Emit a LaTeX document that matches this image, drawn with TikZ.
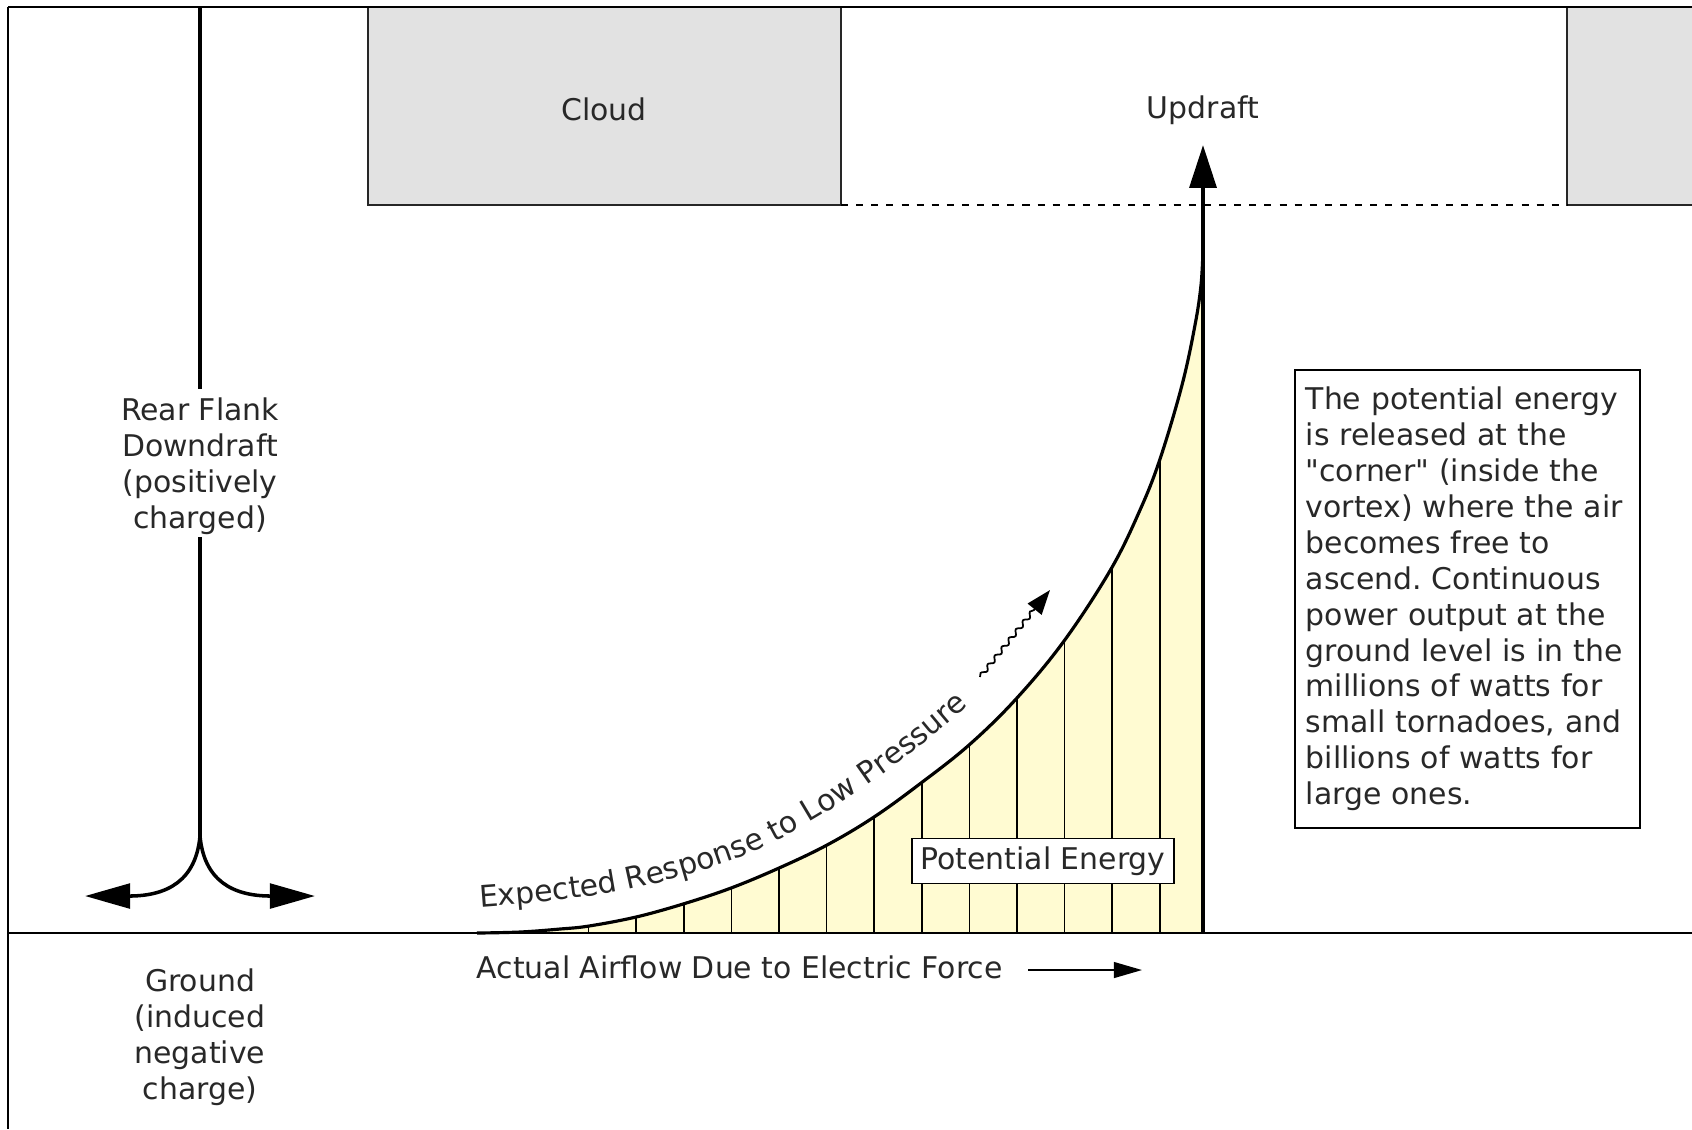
\documentclass[tikz,border=0pt]{standalone}
\usepackage{fontspec}
\setmainfont{DejaVu Sans}
\usetikzlibrary{arrows.meta,decorations.text,decorations.pathmorphing}
\definecolor{cloudgray}{RGB}{226,226,226}
\definecolor{peyellow}{RGB}{255,251,210}
\definecolor{txt}{RGB}{40,40,40}
\frenchspacing
\begin{document}
\begin{tikzpicture}[x=0.01cm,y=-0.01cm,
  lbl/.style={font=\fontsize{8.5}{10.2}\selectfont\frenchspacing, text=txt, align=center, inner sep=0pt},
  frameline/.style={line width=0.6pt, draw=black},
  cloudbox/.style={fill=cloudgray, draw=black!85, line width=0.6pt},
  rearline/.style={line width=1pt, draw=black},
  bigtip/.style={-{Triangle[length=12.8pt,width=7pt]}},
  hatchline/.style={line width=0.45pt, draw=black},
  curveline/.style={line width=0.9pt, draw=black},
  thinarrow/.style={line width=0.5pt, -{Triangle[length=8pt,width=4.5pt]}},
  boxed/.style={draw=black, line width=0.5pt, fill=white}
]
\useasboundingbox (0,0) rectangle (1692,1129);
\fill[white] (0,0) rectangle (1692,1129);

% clouds
\draw[cloudbox] (368,7) rectangle (841,205);
\begin{scope}
  \clip (0,0) rectangle (1692,1129);
  \draw[cloudbox] (1567,7) rectangle (1720,205);
\end{scope}
\node[lbl] (cloud) at (604,109) {Cloud};
\node[lbl] (updraft) at (1203,110) {Updraft};
\coordinate (cloudR) at (841,205);
\coordinate (cloud2L) at (1567,205);
\draw[line width=0.45pt, dash pattern=on 2pt off 2.3pt] (cloudR) -- (cloud2L);

% frame
\draw[frameline] (8,7) -- (1692,7);
\draw[frameline] (8,7) -- (8,1129);

% potential energy fill
\fill[peyellow] plot[smooth, tension=0.6] coordinates {(477,933) (520,932) (560,929) (589,926) (636,917) (683,904) (731,888) (779,868) (827,845) (874,817) (921,783) (969,745) (1016,699) (1064,641) (1111,569) (1140,510) (1160,459) (1182,385) (1195,325) (1201,285) (1203,250)} -- (1203,933) -- cycle;
\begin{scope}
  \clip plot[smooth, tension=0.6] coordinates {(477,933) (520,932) (560,929) (589,926) (636,917) (683,904) (731,888) (779,868) (827,845) (874,817) (921,783) (969,745) (1016,699) (1064,641) (1111,569) (1140,510) (1160,459) (1182,385) (1195,325) (1201,285) (1203,250)} -- (1203,933) -- cycle;
  \foreach \i in {0,...,13} \draw[hatchline] ({541+47.6*\i},933) -- ({541+47.6*\i},200);
\end{scope}

% ground
\coordinate (gL) at (8,933);
\coordinate (gR) at (1692,933);
\draw[frameline] (gL) -- (gR);

% expected response curve
\draw[curveline]
  plot[smooth, tension=0.6] coordinates {(477,933) (520,932) (560,929) (589,926) (636,917) (683,904) (731,888) (779,868) (827,845) (874,817) (921,783) (969,745) (1016,699) (1064,641) (1111,569) (1140,510) (1160,459) (1182,385) (1195,325) (1201,285) (1203,250)};
% its label, set along its own baseline
\path[decorate, decoration={text along path, text align={left indent=0pt},
  text={|\fontsize{8.5}{10.2}\selectfont\color{txt}|Expected Response to Low Pressure}}]
  plot[smooth, tension=0.6] coordinates {(480,907) (560,900) (630,889) (700,871) (760,849) (820,816) (870,783) (920,746) (975,700) (1000,678)};

% wavy arrow
\coordinate (w1) at (980,677);
\coordinate (w2) at (1050,590);
\draw[line width=0.5pt, -{Triangle[length=7pt,width=5pt]}, decorate,
  decoration={snake, amplitude=0.6pt, segment length=3.2pt, post length=7pt}] (w1) -- (w2);

% updraft arrow
\coordinate (ubase) at (1203,933);
\coordinate (utip) at (1203,145);
\draw[line width=1.2pt, -{Triangle[length=12.2pt,width=7.6pt]}] (ubase) -- (utip);

% potential energy label
\node[boxed, lbl, minimum width=74.5pt, minimum height=12.8pt] (pe) at (1043,861) {Potential Energy};

% actual airflow
\node[lbl, anchor=base west] (actual) at (476,978) {Actual Airflow Due to Electric Force};
\coordinate (aa1) at (1028,970);
\coordinate (aa2) at (1142,970);
\draw[thinarrow] (aa1) -- (aa2);

% rear flank downdraft
\coordinate (rtop) at (200,7);
\coordinate (rg1) at (200,389);
\coordinate (rg2) at (200,537);
\coordinate (rj) at (200,836);
\coordinate (rl) at (85,896);
\coordinate (rr) at (315,896);
\node[lbl] (rfd) at (200,466) {Rear Flank\\Downdraft\\(positively\\charged)};
\draw[rearline] (rtop) -- (rg1);
\draw[rearline] (rg2) -- (rj);
\draw[rearline, bigtip] (rj) .. controls (196,880) and (168,896) .. (rl);
\draw[rearline, bigtip] (rj) .. controls (204,880) and (232,896) .. (rr);

% ground label
\node[lbl] (ground) at (200,1037) {Ground\\(induced\\negative\\charge)};

% info box
\node[boxed, lbl, align=left, text width=92pt, inner xsep=3.1pt, inner ysep=0pt, minimum height=130.3pt] (info) at (1467.5,599)
{The potential energy\\is released at the\\\textquotedbl corner\textquotedbl{} (inside the\\vortex) where the air\\becomes free to\\ascend. Continuous\\power output at the\\ground level is in the\\millions of watts for\\small tornadoes, and\\billions of watts for\\large ones.};
\end{tikzpicture}
\end{document}
